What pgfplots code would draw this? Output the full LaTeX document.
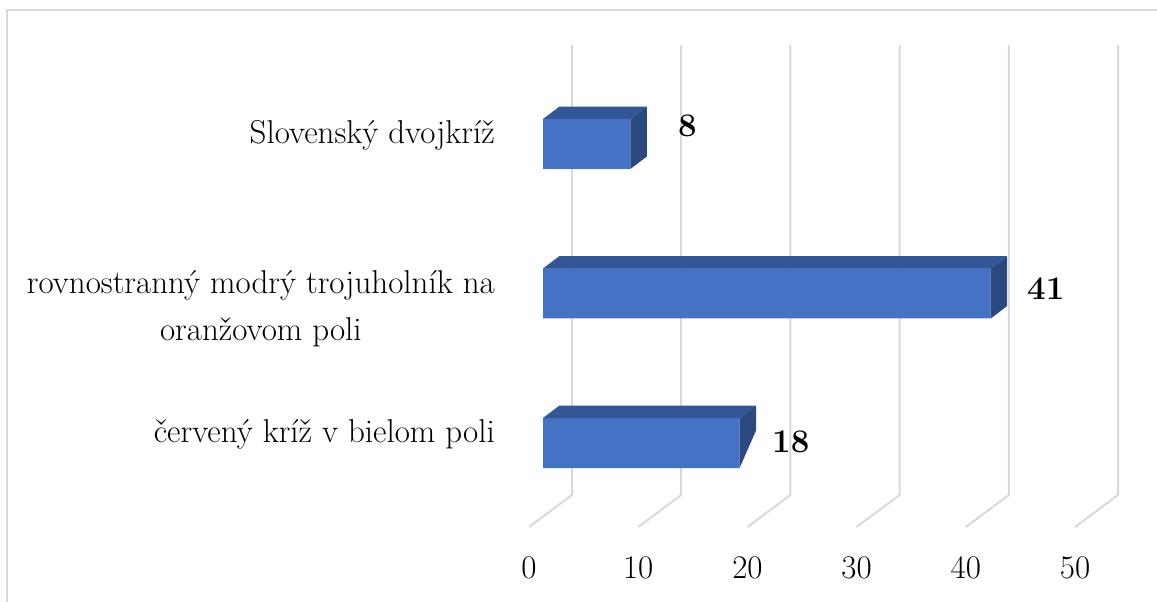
\documentclass[border=0pt]{standalone}
\usepackage{fontspec}
\usepackage{pgfplots}
\pgfplotsset{compat=1.18}
\definecolor{barfront}{HTML}{4472C4}
\definecolor{bartop}{HTML}{325696}
\definecolor{barside}{HTML}{2A4A7F}
\definecolor{gridc}{HTML}{D9D9D9}
\newcommand{\lblfont}{\fontsize{33}{47}\selectfont}
\begin{document}
\begin{tikzpicture}
\begin{axis}[
  x=10.92pt, y=149.5pt,
  xmin=-49.725, xmax=56.227, ymin=-1.0569, ymax=2.9632,
  axis line style={draw=none},
  major tick length=0pt,
  clip=false,
  xtick={-1.282,8.718,18.718,28.718,38.718,48.718},
  xticklabels={0,10,20,30,40,50},
  x tick label style={anchor=base, yshift=23pt, font=\lblfont},
  ytick={0,1,2},
  yticklabels={červený kríž v bielom poli,{\begin{tabular}[t]{@{}c@{}}rovnostranný modrý trojuholník na\\oranžovom poli\end{tabular}},Slovenský dvojkríž},
  y tick label style={anchor=base east, inner sep=0pt, xshift=495pt, font=\lblfont},
]
% border
\draw[gridc, line width=1.5pt] (axis cs:57,2.896) -- (axis cs:-49.084,2.896) -- (axis cs:-49.084,-1.2);
% gridlines (back wall + floor)
\addplot[gridc, line width=2pt] coordinates {(2.656,2.662) (2.656,-0.3478) (-1.282,-0.5619)};
\addplot[gridc, line width=2pt] coordinates {(12.656,2.662) (12.656,-0.3478) (8.718,-0.5619)};
\addplot[gridc, line width=2pt] coordinates {(22.656,2.662) (22.656,-0.3478) (18.718,-0.5619)};
\addplot[gridc, line width=2pt] coordinates {(32.656,2.662) (32.656,-0.3478) (28.718,-0.5619)};
\addplot[gridc, line width=2pt] coordinates {(42.656,2.662) (42.656,-0.3478) (38.718,-0.5619)};
\addplot[gridc, line width=2pt] coordinates {(52.656,2.662) (52.656,-0.3478) (48.718,-0.5619)};
% bars (front faces)
\addplot[xbar, bar width=50pt, fill=barfront, draw=none] coordinates {(18,0) (41,1) (8,2)};
% top faces
\addplot[fill=bartop, draw=none] coordinates {(0,0.1672) (18,0.1672) (19.51,0.2508) (1.51,0.2508)} -- cycle;
\addplot[fill=bartop, draw=none] coordinates {(0,1.1672) (41,1.1672) (42.51,1.2508) (1.51,1.2508)} -- cycle;
\addplot[fill=bartop, draw=none] coordinates {(0,2.1672) (8,2.1672) (9.51,2.2508) (1.51,2.2508)} -- cycle;
% side faces
\addplot[fill=barside, draw=none] coordinates {(18,-0.1672) (18,0.1672) (19.51,0.2508) (19.51,0.0836)} -- cycle;
\addplot[fill=barside, draw=none] coordinates {(41,0.8328) (41,1.1672) (42.51,1.2508) (42.51,0.9164)} -- cycle;
\addplot[fill=barside, draw=none] coordinates {(8,1.8328) (8,2.1672) (9.51,2.2508) (9.51,1.9164)} -- cycle;
% value labels
\node[anchor=west, inner sep=0pt, font=\bfseries\lblfont] at (axis cs:20.97,0.0067) {18};
\node[anchor=west, inner sep=0pt, font=\bfseries\lblfont] at (axis cs:44.32,1.030) {41};
\node[anchor=west, inner sep=0pt, font=\bfseries\lblfont] at (axis cs:12.36,2.120) {8};
\end{axis}
\pgfresetboundingbox
\path[use as bounding box] (current axis.south west) rectangle (current axis.north east);
\end{tikzpicture}
\end{document}
